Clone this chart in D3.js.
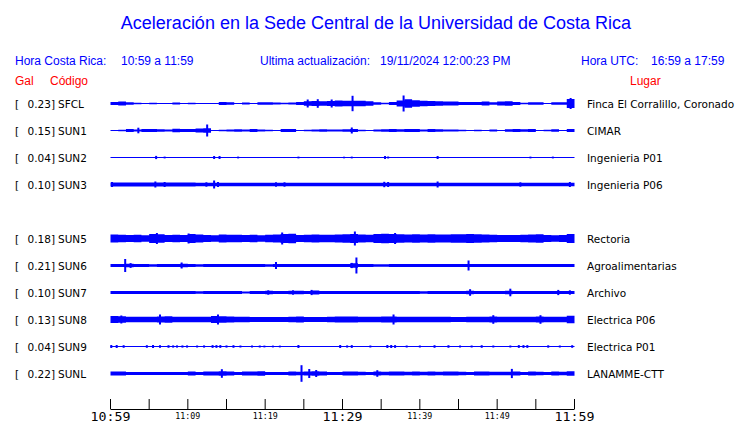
<!DOCTYPE html>
<html>
<head>
<meta charset="utf-8">
<script src="https://cdn.jsdelivr.net/npm/d3@7"></script>
<style>
  body { margin: 0; background: #fff; }
  svg { display: block; }
</style>
</head>
<body>
<svg width="740" height="423"></svg>
<script>
// station list, peak acceleration (Gal) and place, top to bottom
var codes  = ["SFCL", "SUN1", "SUN2", "SUN3", "SUN5", "SUN6", "SUN7", "SUN8", "SUN9", "SUNL"];
var peaks  = [0.23, 0.15, 0.04, 0.10, 0.18, 0.21, 0.10, 0.13, 0.04, 0.22];
var places = ["Finca El Corralillo, Coronado", "CIMAR", "Ingenieria P01", "Ingenieria P06",
              "Rectoria", "Agroalimentarias", "Archivo", "Electrica P06", "Electrica P01", "LANAMME-CTT"];
var slots  = [0, 1, 2, 3, 5, 6, 7, 8, 9, 10];   // row 4 (SUN4) is empty

// time axis, minutes after 10:59
var tickMinutes = [0, 5, 10, 15, 20, 25, 30, 35, 40, 45, 50, 55, 60];
var tickLabels  = ["10:59", "", "11:09", "", "11:19", "", "11:29", "", "11:39", "", "11:49", "", "11:59"];
var bigLabels   = ["10:59", "11:29", "11:59"];

// envelope (half amplitude, trace units) for each minute of the hour
var envSFCL = [1.5,2.0,1.3,0.8,0.5,0.8,0.5,0.5,1.0,0.5, 0.7,0.5,0.5,0.5,1.5,1.3,0.5,0.9,0.6,1.3,
               1.2,1.1,0.8,1.0,1.5,2.3,2.6,2.2,2.6,3.0, 2.8,2.8,2.7,2.3,1.3,0.8,1.5,3.0,4.2,3.3,
               2.8,2.4,2.2,2.0,1.9,1.5,1.6,1.5,2.0,1.3, 2.0,2.2,1.5,0.7,1.3,1.3,0.6,1.3,1.3,4.5];
var envSUN1 = [0.6,0.8,1.5,1.0,1.4,1.5,1.3,0.9,1.8,1.6, 1.5,2.0,2.2,0.6,0.8,0.9,1.2,1.0,1.5,1.0,
               0.8,0.6,1.4,1.4,0.6,0.8,0.9,1.3,1.0,0.9, 1.3,1.5,0.7,0.6,0.9,1.2,1.4,1.3,1.5,1.5,
               1.0,1.4,1.3,0.9,0.9,0.8,0.6,0.8,0.6,0.9, 0.6,1.3,1.4,1.3,1.4,0.6,0.8,1.2,0.6,1.5];
var envSUN2 = [0.5,0.5,0.5,0.5,0.5,0.5,0.5,0.5,0.5,0.5, 0.5,0.5,0.5,0.5,0.5,0.5,0.5,0.5,0.5,0.5,
               0.5,0.5,0.5,0.5,0.5,0.5,0.5,0.5,0.5,0.5, 0.5,0.5,0.5,0.5,0.5,0.5,0.5,0.5,0.5,0.5,
               0.5,0.5,0.5,0.5,0.5,0.5,0.5,0.5,0.5,0.5, 0.5,0.5,0.5,0.5,0.5,0.5,0.5,0.5,0.5,0.5];
var envSUN3 = [1.9,1.9,1.9,1.9,1.9,1.9,1.9,1.9,1.9,1.9, 1.9,1.8,1.8,1.8,1.8,1.8,1.8,1.8,1.8,1.8,
               1.8,1.8,1.8,1.8,1.8,1.8,1.8,1.8,1.8,1.8, 1.8,1.8,1.8,1.8,1.8,1.8,1.8,1.8,1.8,1.8,
               1.8,1.8,1.8,1.8,1.8,1.8,1.8,1.8,1.8,1.8, 1.8,1.8,1.8,1.8,1.8,1.8,1.8,1.8,1.8,1.8];
var envSUN5 = [4.0,3.7,3.5,3.7,3.3,4.5,4.2,3.5,3.8,3.5, 4.5,4.0,3.5,3.2,4.0,3.8,3.7,3.5,3.8,3.2,
               3.8,4.0,4.5,4.7,3.5,3.8,4.0,3.8,3.7,4.0, 4.3,4.5,4.0,3.8,4.5,4.7,4.5,4.3,4.0,4.3,
               4.0,4.2,4.0,4.0,4.3,4.2,4.5,4.2,4.0,3.7, 3.5,3.5,3.6,3.8,4.0,4.2,3.4,3.3,3.5,4.6];
var envSUN6 = [1.5,1.5,1.8,1.5,1.4,1.2,1.5,1.5,1.5,1.7, 1.5,1.2,1.5,1.5,1.4,1.4,1.5,1.5,1.5,1.5,
               1.2,1.6,1.5,1.5,1.5,1.5,1.5,1.5,1.5,1.5, 1.5,2.2,1.5,1.5,1.3,1.3,1.5,1.5,1.5,1.5,
               1.5,1.5,1.5,1.5,1.5,1.5,1.6,1.5,1.5,1.5, 1.5,1.5,1.5,1.5,1.5,1.5,1.5,1.6,1.5,1.6];
var envSUN7 = [1.5,1.5,1.5,1.5,1.5,1.5,1.5,1.5,1.5,1.5, 1.5,1.3,1.5,1.5,1.5,1.5,1.5,1.1,1.5,1.5,
               1.7,1.5,1.5,1.8,1.7,1.5,2.0,1.5,1.5,1.5, 1.5,1.5,1.5,1.5,1.5,1.5,1.5,1.5,1.5,1.5,
               1.3,1.5,1.5,1.5,1.5,1.5,1.7,1.5,1.5,1.5, 1.5,1.7,1.5,1.5,1.5,1.5,1.5,1.6,1.5,1.6];
var envSUN8 = [3.5,3.2,2.8,2.8,2.7,2.8,3.0,3.2,2.8,2.8, 2.8,2.8,2.7,3.5,3.3,3.0,2.8,2.8,2.6,2.6,
               2.6,2.5,2.6,2.7,2.9,2.6,2.5,2.5,2.7,3.0, 3.0,2.9,2.8,2.8,2.8,2.9,3.0,2.8,2.8,2.8,
               2.7,2.8,2.8,2.7,2.6,2.5,2.8,2.7,2.8,3.0, 2.7,2.7,2.8,2.7,2.8,3.0,2.8,2.7,2.8,3.8];
var envSUN9 = [0.6,0.6,0.6,0.6,0.6,0.6,0.6,0.6,0.6,0.6, 0.6,0.6,0.6,0.6,0.6,0.6,0.6,0.6,0.6,0.6,
               0.6,0.6,0.6,0.6,0.6,0.6,0.6,0.6,0.6,0.6, 0.6,0.6,0.6,0.6,0.6,0.6,0.6,0.6,0.6,0.6,
               0.6,0.6,0.6,0.6,0.6,0.6,0.6,0.6,0.6,0.6, 0.6,0.6,0.6,0.6,0.6,0.6,0.6,0.6,0.6,0.6];
var envSUNL = [2.0,2.0,1.6,1.6,1.6,1.6,1.6,1.6,1.6,1.6, 1.9,1.6,1.9,2.0,2.2,2.0,1.6,2.0,1.9,2.2,
               1.6,1.6,1.6,2.0,1.7,2.0,2.2,2.0,1.6,1.6, 2.1,2.0,1.8,1.6,2.0,1.7,2.0,2.0,1.7,1.9,
               1.7,2.0,1.7,2.0,2.0,1.8,1.6,2.0,2.0,1.7, 1.8,1.7,2.0,1.6,2.0,1.7,1.6,2.0,1.8,2.2];

// short peaks: [minute, half amplitude]
var spkSFCL = [[25.5,4.0],[26.8,4.3],[28.6,4.0],[31.3,7.7],[37.9,8.0],[59.5,5.5]];
var spkSUN1 = [[3.6,2.8],[12.5,6.0],[31.2,3.0]];
var spkSUN2 = [[5.9,1.6],[7.0,0.9],[13.4,1.5],[14.1,1.5],[16.5,0.9],[24.3,0.9],[30.2,0.8],[31.2,0.9],
               [35.5,1.5],[35.9,1.0],[42.3,1.5],[54.3,0.9],[57.2,0.9]];
var spkSUN3 = [[0.2,2.5],[5.8,3.0],[7.0,2.5],[12.4,2.2],[13.4,4.0],[13.9,2.5],[21.4,2.2],[22.5,2.2],
               [35.4,2.7],[35.9,2.5],[42.3,3.0],[53.0,2.2],[59.4,2.5]];
var spkSUN5 = [[6.0,5.5],[10.1,5.0],[22.2,6.0],[31.6,7.0],[36.8,5.5]];
var spkSUN6 = [[1.9,6.5],[2.6,2.4],[9.2,3.0],[21.4,3.5],[31.2,2.6],[31.8,8.0],[46.3,5.0]];
var spkSUN7 = [[20.4,2.2],[23.6,2.2],[26.0,2.6],[46.5,3.3],[51.7,3.8],[57.9,2.6],[59.4,2.2]];
var spkSUN8 = [[1.4,4.0],[6.4,5.0],[13.9,5.0],[36.6,5.0],[49.5,4.3],[55.6,4.3]];
var spkSUN9 = [[0.1,1.5],[0.8,1.5],[1.7,1.3],[4.7,1.3],[5.5,1.5],[6.4,1.3],[7.5,1.3],[8.1,1.1],
               [8.6,1.1],[9.3,1.1],[9.9,1.1],[11.2,1.0],[12.1,1.1],[13.2,1.4],[13.7,1.4],[14.2,1.4],
               [15.0,1.1],[15.9,1.3],[16.8,1.0],[18.3,1.0],[19.3,1.0],[19.9,0.9],[21.0,0.9],[21.9,0.9],
               [24.3,1.5],[29.7,1.5],[30.6,1.1],[31.2,1.4],[33.6,1.0],[35.8,1.5],[36.3,1.5],[36.8,1.4],
               [38.3,1.0],[40.0,1.0],[41.9,1.3],[43.7,1.3],[45.2,1.0],[46.7,1.0],[48.0,1.3],[49.5,1.0],
               [51.7,1.0],[52.8,1.4],[53.4,1.4],[53.9,1.4],[56.6,1.2],[58.1,1.0],[59.7,1.3]];
var spkSUNL = [[14.4,4.3],[24.7,8.3],[25.7,4.5],[26.6,3.5],[34.5,3.3],[51.9,4.6]];

var envelopes = [envSFCL, envSUN1, envSUN2, envSUN3, envSUN5, envSUN6, envSUN7, envSUN8, envSUN9, envSUNL];
var spikes    = [spkSFCL, spkSUN1, spkSUN2, spkSUN3, spkSUN5, spkSUN6, spkSUN7, spkSUN8, spkSUN9, spkSUNL];

var svg = d3.select("svg"),
    BLUE = "#0000ff",
    RED = "#ff0000",
    x = d3.scaleLinear().domain([0, 60]).range([110, 574]),
    row = d3.scalePoint().domain(d3.range(11)).range([103.5, 373.5]),
    amp = d3.scaleLinear().domain([0, 8]).range([0, 8]);

svg.append("rect").attr("width", 740).attr("height", 423).attr("fill", "#fff");

// headers
svg.append("text")
    .attr("x", 376).attr("y", 29)
    .attr("text-anchor", "middle")
    .attr("fill", BLUE)
    .style("font", "18px 'Liberation Sans', Arial, sans-serif")
    .text("Aceleración en la Sede Central de la Universidad de Costa Rica");

var head = [
  [15, 65, BLUE, "Hora Costa Rica:"], [121, 65, BLUE, "10:59 a 11:59"],
  [260, 65, BLUE, "Ultima actualización:"], [380, 65, BLUE, "19/11/2024 12:00:23 PM"],
  [581, 65, BLUE, "Hora UTC:"], [651, 65, BLUE, "16:59 a 17:59"],
  [15, 85, RED, "Gal"], [50, 85, RED, "Código"], [630, 85, RED, "Lugar"]
];
svg.selectAll("text.head").data(head).enter().append("text")
    .attr("class", "head")
    .attr("x", function(d) { return d[0]; })
    .attr("y", function(d) { return d[1]; })
    .attr("fill", function(d) { return d[2]; })
    .style("font", "12px 'Liberation Sans', Arial, sans-serif")
    .text(function(d) { return d[3]; });

// one row per station
var rows = svg.selectAll("g.station").data(codes).enter().append("g")
    .attr("class", "station");

rows.each(function(code, i) {
  var g = d3.select(this),
      cy = row(slots[i]),
      env = envelopes[i].concat([envelopes[i][envelopes[i].length - 1]]);

  var label = g.append("g").style("font", "10.5px 'DejaVu Sans', sans-serif").attr("fill", "#000");
  label.append("text").attr("x", 15).attr("y", cy + 4).text("[");
  label.append("text").attr("x", 55).attr("y", cy + 4).attr("text-anchor", "end")
      .text(d3.format(".2f")(peaks[i]) + "]");
  label.append("text").attr("x", 58).attr("y", cy + 4).text(code);
  label.append("text").attr("x", 587).attr("y", cy + 4).text(places[i]);

  var area = d3.area()
      .x(function(d, j) { return x(j) + 0.5; })
      .y0(function(d) { return cy - amp(d); })
      .y1(function(d) { return cy + amp(d); })
      .curve(d3.curveStepAfter);

  g.append("path").datum(env).attr("d", area).attr("fill", BLUE);

  g.selectAll("rect.spike").data(spikes[i]).enter().append("rect")
      .attr("class", "spike")
      .attr("x", function(d) { return x(d[0]) - 0.5; })
      .attr("width", 2)
      .attr("y", function(d) { return cy - amp(d[1]); })
      .attr("height", function(d) { return 2 * amp(d[1]); })
      .attr("fill", BLUE);
});

// time axis, ticks pointing up
var axis = svg.append("g")
    .attr("transform", "translate(0,409)")
    .call(d3.axisBottom(x).tickValues(tickMinutes).tickSizeInner(-10).tickSizeOuter(0).tickFormat(""));
axis.select(".domain").attr("stroke", "#000");
axis.selectAll(".tick line").attr("stroke", "#000");
axis.selectAll(".tick text").remove();

svg.selectAll("text.tlabel").data(tickMinutes.filter(function(d, i) { return tickLabels[i] !== ""; }))
  .enter().append("text")
    .attr("class", "tlabel")
    .each(function(d) {
      var lab = tickLabels[tickMinutes.indexOf(d)],
          big = bigLabels.indexOf(lab) >= 0;
      d3.select(this)
          .attr("x", x(d) + 0.5 - (big ? 20 : 12.5))
          .attr("y", big ? 421 : 419)
          .attr("textLength", big ? 40 : 25)
          .attr("lengthAdjust", "spacingAndGlyphs")
          .style("font-size", big ? "12px" : "9.5px")
          .text(lab);
    })
    .attr("fill", "#000")
    .style("font-family", "'DejaVu Sans Mono', monospace");
</script>
</body>
</html>
